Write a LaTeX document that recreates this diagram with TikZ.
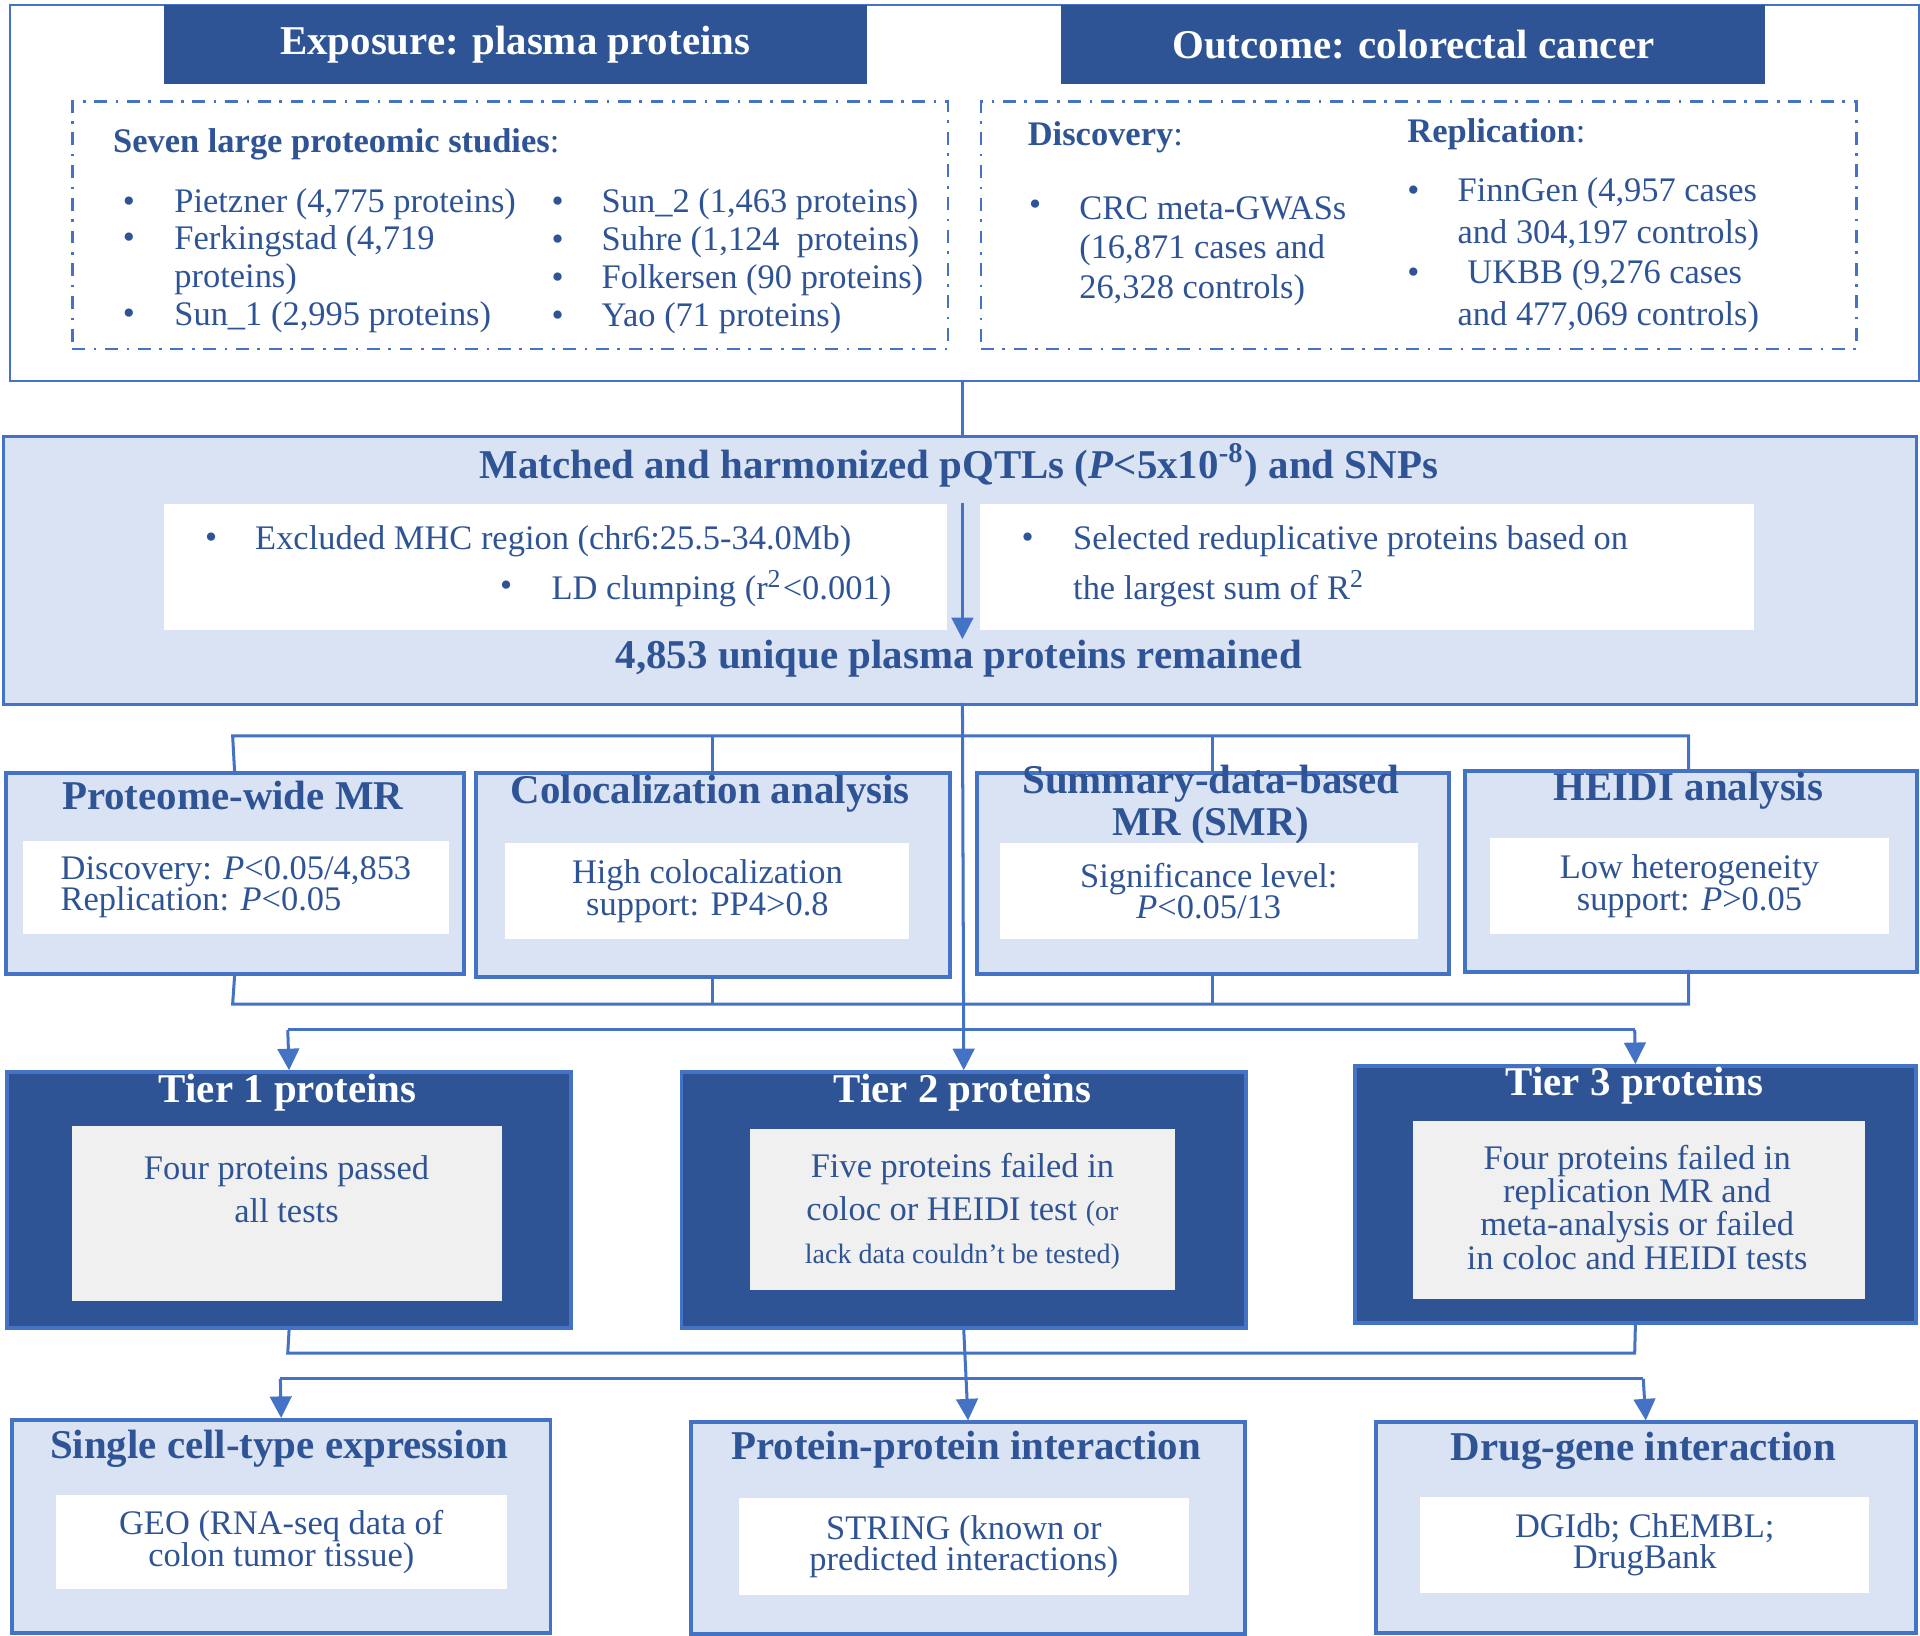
\documentclass[tikz,border=0pt]{standalone}
\usepackage{fontspec}
\setmainfont{Liberation Serif}
\usetikzlibrary{arrows.meta, positioning, calc}
\definecolor{cD}{RGB}{47, 84, 150}
\definecolor{cL}{RGB}{218, 227, 243}
\definecolor{cE}{RGB}{68, 114, 196}
\definecolor{cG}{RGB}{240, 240, 240}
\tikzset{
  sz/.style 2 args={anchor=north west, inner sep=0pt, minimum width=#1*0.01cm, minimum height=#2*0.01cm},
  Outer/.style={draw=cE, line width=0.6pt, fill=white},
  Head/.style={fill=cD, text=white, font=\fontsize{9.5}{11}\selectfont\bfseries},
  Dash/.style={draw=cE, line width=0.6pt, dash dot},
  Light/.style={draw=cE, line width=0.9pt, fill=cL},
  Dark/.style={draw=cE, line width=0.9pt, fill=cD},
  Inner/.style={fill=white},
  Gray/.style={fill=cG},
  Title/.style={font=\fontsize{9.5}{10}\selectfont\bfseries, text=cD},
  WTitle/.style={font=\fontsize{9.5}{10}\selectfont\bfseries, text=white},
  Txt/.style={font=\fontsize{8}{8.5}\selectfont, text=cD, align=center},
  Lft/.style={font=\fontsize{8}{8.6}\selectfont, text=cD, anchor=west, align=left},
  Line/.style={draw=cE, line width=0.7pt},
  Arr/.style={Line, -{Triangle[width=5pt,length=5pt]}},
}
\begin{document}
\begin{tikzpicture}[x=0.01cm, y=-0.01cm]
\useasboundingbox (0,0) rectangle (1568,1336);

% top part
\node[Outer, sz={1559}{307}] (top) at (7,3) {};
\node[Head, sz={574}{65}] (exp) at (133,3) {Exposure: plasma proteins};
\node[Head, sz={575}{65}] (out) at (866,3) {Outcome: colorectal cancer};
\node[Dash, sz={715}{202}] (studies) at (58,82) {};
\node[Dash, sz={715}{202}] (crc) at (800,82) {};

\node[Lft, text=cD] (st) at (80,118) {\textbf{Seven large proteomic studies}:};
\foreach \y/\t in {167/{Pietzner (4,775 proteins)}, 197/{Ferkingstad (4,719}, 259/{Sun\_1 (2,995 proteins)}} {
  \node[Lft] at (88,\y) {•};
  \node[Lft] at (130,\y) {\t};
}
\node[Lft] at (130,228) {proteins)};
\foreach \y/\t in {167/{Sun\_2 (1,463 proteins)}, 198/{Suhre (1,124 \ proteins)}, 229/{Folkersen (90 proteins)}, 260/{Yao (71 proteins)}} {
  \node[Lft] at (438,\y) {•};
  \node[Lft] at (479,\y) {\t};
}
\node[Lft] (disc) at (827,112) {\textbf{Discovery}:};
\node[Lft] (repl) at (1137,110) {\textbf{Replication}:};
\node[Lft] at (828,170) {•};
\node[Lft] at (869,170) {CRC meta-GWASs};
\node[Lft] at (869,204) {(16,871 cases and};
\node[Lft] at (869,237) {26,328 controls)};
\node[Lft] at (1137,158) {•};
\node[Lft] at (1178,158) {FinnGen (4,957 cases};
\node[Lft] at (1178,192) {and 304,197 controls)};
\node[Lft] at (1137,225) {•};
\node[Lft] at (1186,225) {UKBB (9,276 cases};
\node[Lft] at (1178,259) {and 477,069 controls)};

% harmonization
\node[Light, line width=0.7pt, sz={1562}{219}] (match) at (2,355) {};
\node[Title] (mt) at (783,380) {Matched and harmonized pQTLs (\textit{P}<5x10\textsuperscript{-8}) and SNPs};
\node[Inner, sz={640}{103}] (excl) at (133,411) {};
\node[Inner, sz={632}{103}] (sel) at (800,411) {};
\node[Lft] at (155,442) {•};
\node[Lft] at (196,442) {Excluded MHC region (chr6:25.5-34.0Mb)};
\node[Lft] at (396,481) {•};
\node[Lft] at (438,481) {LD clumping (r\textsuperscript{2}<0.001)};
\node[Lft] at (822,442) {•};
\node[Lft] at (864,442) {Selected reduplicative proteins based on};
\node[Lft] at (864,481) {the largest sum of R\textsuperscript{2}};
\node[Title] (rem) at (783,538) {4,853 unique plasma proteins remained};

% analyses
\node[Light, sz={374}{164}] (mr) at (3,630) {};
\node[Light, sz={387}{166}] (col) at (387,630) {};
\node[Light, sz={386}{164}] (smr) at (796,630) {};
\node[Light, sz={369}{164}] (hei) at (1195,628) {};
\node[Title] at (190,650) {Proteome-wide MR};
\node[Title] at (580,648) {Colocalization analysis};
\node[Title, align=center, font=\fontsize{9.5}{7.5}\selectfont\bfseries] at (989,657) {Summary-data-based\\MR (SMR)};
\node[Title] at (1379,646) {HEIDI analysis};
\node[Inner, sz={348}{76}] (mri) at (18,686) {};
\node[Inner, sz={330}{78}] (coli) at (412,688) {};
\node[Inner, sz={341}{78}] (smri) at (816,688) {};
\node[Inner, sz={326}{78}] (heii) at (1216,684) {};
\node[Txt, align=left, font=\fontsize{8}{7.3}\selectfont] at (mri) {Discovery: \textit{P}<0.05/4,853\\Replication: \textit{P}<0.05};
\node[Txt, font=\fontsize{8}{7.3}\selectfont] at (coli) {High colocalization\\support: PP4>0.8};
\node[Txt, font=\fontsize{8}{7.3}\selectfont] at (smri) {Significance level:\\\textit{P}<0.05/13};
\node[Txt, font=\fontsize{8}{7.3}\selectfont] at (heii) {Low heterogeneity\\support: \textit{P}>0.05};

% tiers
\node[Dark, sz={461}{209}] (t1) at (4,874) {};
\node[Dark, sz={461}{209}] (t2) at (555,874) {};
\node[Dark, sz={458}{210}] (t3) at (1105,869) {};
\node[WTitle] at (235,892) {Tier 1 proteins};
\node[WTitle] at (786,892) {Tier 2 proteins};
\node[WTitle] at (1335,887) {Tier 3 proteins};
\node[Gray, sz={351}{143}] (t1i) at (58,919) {};
\node[Gray, sz={347}{132}] (t2i) at (612,921) {};
\node[Gray, sz={369}{145}] (t3i) at (1153,915) {};
\node[Txt, font=\fontsize{8}{10}\selectfont] at (234,971) {Four proteins passed\\all tests};
\node[Txt, font=\fontsize{8}{10}\selectfont] at (786,989) {Five proteins failed in\\coloc or HEIDI test {\fontsize{6.5}{7}\selectfont(or}\\{\fontsize{6.5}{7}\selectfont lack data couldn't be tested)}};
\node[Txt, font=\fontsize{8}{7.7}\selectfont] at (1337,986) {Four proteins failed in\\replication MR and\\meta-analysis or failed\\in coloc and HEIDI tests};

% downstream
\node[Light, sz={440}{174}] (sc) at (8,1158) {};
\node[Light, sz={452}{173}] (ppi) at (563,1160) {};
\node[Light, sz={441}{172}] (dg) at (1122,1160) {};
\node[Title] at (228,1183) {Single cell-type expression};
\node[Title] at (789,1184) {Protein-protein interaction};
\node[Title] at (1342,1185) {Drug-gene interaction};
\node[Inner, sz={368}{77}] (sci) at (45,1220) {};
\node[Inner, sz={367}{79}] (ppii) at (603,1223) {};
\node[Inner, sz={367}{78}] (dgi) at (1159,1222) {};
\node[Txt, font=\fontsize{8}{7.3}\selectfont] at (sci) {GEO (RNA-seq data of\\colon tumor tissue)};
\node[Txt, font=\fontsize{8}{7.3}\selectfont] at (ppii) {STRING (known or\\predicted interactions)};
\node[Txt, font=\fontsize{8}{7.3}\selectfont] at (dgi) {DGIdb; ChEMBL;\\DrugBank};

% connectors
\coordinate (a1) at (786,522);
\draw[Line] (786,310) -- (786,355);
\draw[Arr] (mt.south -| a1) -- (a1);
\draw[Arr] (786,574) -- (t2.north);
\draw[Line] (mr.north) -- (190,601) -- (1379,601) -- (1379,628);
\draw[Line] (col.north |- 0,601) -- (col.north);
\draw[Line] (smr.north |- 0,601) -- (smr.north);
\draw[Line] (mr.south) -- (190,820) -- (1379,820) -- (1379,792);
\draw[Line] (col.south |- 0,820) -- (col.south);
\draw[Line] (smr.south |- 0,820) -- (smr.south);
\draw[Line] (1335,841) -- (235,841);
\draw[Arr] (235,841) -- (t1.north);
\draw[Arr] (1335,841) -- (t3.north);
\draw[Line] (t1.south) -- (235,1105) -- (1335,1105) -- (t3.south);
\draw[Line] (229,1126) -- (1342,1126);
\draw[Arr] (t2.south) -- (ppi.north);
\draw[Arr] (229,1126) -- (sc.north);
\draw[Arr] (1342,1126) -- (dg.north);
\end{tikzpicture}
\end{document}
